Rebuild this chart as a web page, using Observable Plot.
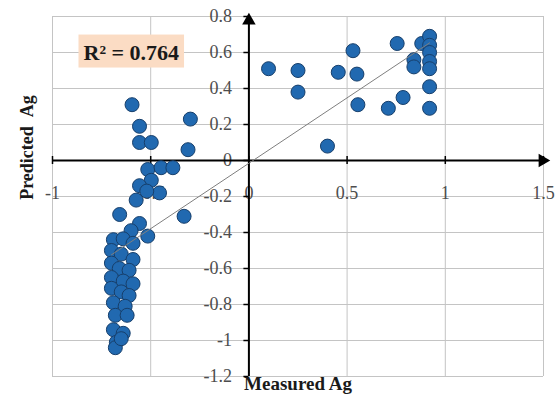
<!DOCTYPE html>
<html>
<head>
<meta charset="utf-8">
<script src="https://cdn.jsdelivr.net/npm/d3@7"></script>
<script src="https://cdn.jsdelivr.net/npm/@observablehq/plot@0.6"></script>
<style>
  html, body { margin: 0; padding: 0; background: #fff; }
</style>
</head>
<body>
<div id="chart"></div>
<script>
// ---- data ----
const xTicks = [-1, -0.5, 0, 0.5, 1, 1.5];
const yTicks = [-1.2, -1, -0.8, -0.6, -0.4, -0.2, 0, 0.2, 0.4, 0.6, 0.8];
const xTitle = "Measured Ag";
const yTitle = "Predicted\u00a0\u00a0Ag";
const r2Label = "R² = 0.764";

const measured = [
  0.10, 0.25, 0.25, 0.455, 0.53, 0.55, 0.555, 0.40, 0.71, 0.785, 0.755, 0.84, 0.84, 0.88,
  0.92, 0.92, 0.92, 0.92, 0.92, 0.92, 0.92,
  -0.595, -0.557, -0.557, -0.497, -0.298, -0.31, -0.515, -0.447, -0.387, -0.497, -0.557,
  -0.455, -0.574, -0.658, -0.557, -0.33, -0.515, -0.52,
  -0.60, -0.69, -0.64, -0.59, -0.70, -0.65, -0.59, -0.70, -0.66, -0.61, -0.70, -0.64, -0.59,
  -0.70, -0.65, -0.61, -0.69, -0.63, -0.68, -0.62, -0.69, -0.64, -0.675, -0.68, -0.65
];
const predicted = [
  0.51, 0.50, 0.38, 0.49, 0.61, 0.48, 0.31, 0.08, 0.29, 0.35, 0.65, 0.56, 0.52, 0.65,
  0.69, 0.64, 0.60, 0.55, 0.51, 0.41, 0.29,
  0.31, 0.19, 0.10, 0.10, 0.23, 0.06, -0.05, -0.04, -0.04, -0.11, -0.14,
  -0.18, -0.22, -0.30, -0.35, -0.31, -0.42, -0.17,
  -0.39, -0.44, -0.435, -0.46, -0.50, -0.52, -0.55, -0.57, -0.60, -0.61, -0.65, -0.67, -0.685,
  -0.71, -0.73, -0.75, -0.79, -0.81, -0.86, -0.86, -0.94, -0.96, -1.01, -1.04, -0.99
];

const points = measured.map((x, i) => ({x, y: predicted[i]}));
const xDomain = [xTicks[0], xTicks[xTicks.length - 1]];
const yDomain = [yTicks[0], yTicks[yTicks.length - 1]];

const gridColor = "#c4c4c4";
const labelColor = "#4d4d4d";

const chart = Plot.plot({
  width: 559,
  height: 403,
  marginLeft: 52,
  marginRight: 16,
  marginTop: 16,
  marginBottom: 27,
  x: {domain: xDomain, axis: null},
  y: {domain: yDomain, axis: null},
  style: {fontFamily: "'Liberation Serif', 'Times New Roman', serif", fontSize: "17px", background: "#fff"},
  marks: [
    Plot.gridX(xTicks, {stroke: gridColor, strokeOpacity: 1, strokeWidth: 1}),
    Plot.gridY(yTicks, {stroke: gridColor, strokeOpacity: 1, strokeWidth: 1}),
    // tick labels (Excel-style, next to the axes through the origin)
    Plot.text(yTicks, {x: 0, y: d => d, text: d => String(d), textAnchor: "end", dx: -17, fill: labelColor, fontSize: 18}),
    Plot.text(xTicks, {x: d => d, y: 0, text: d => String(d), dy: 33, fill: labelColor, fontSize: 18}),
    // axes through the origin
    Plot.ruleY([0], {x1: xDomain[0], x2: xDomain[1], stroke: "#000", strokeWidth: 2}),
    Plot.ruleX([0], {y1: yDomain[0], y2: yDomain[1], stroke: "#000", strokeWidth: 2}),
    Plot.ruleX(xTicks, {x: d => d, y1: 0, y2: 0, insetTop: -4, insetBottom: -4, stroke: "#000", strokeWidth: 1.5}),
    Plot.ruleY(yTicks, {y: d => d, x1: 0, x2: 0, insetLeft: -5, insetRight: 0, stroke: "#000", strokeWidth: 1.5}),
    Plot.dot([0], {x: 0, y: yDomain[1], symbol: "triangle", r: 5, fill: "#000", stroke: null, dy: 4}),
    Plot.dot([0], {x: xDomain[1], y: 0, symbol: "triangle", r: 5, rotate: 90, fill: "#000", stroke: null, dx: -1}),
    // data
    Plot.dot(points, {x: "x", y: "y", r: 7, fill: "#2169b0", stroke: "#173f6b", strokeWidth: 1}),
    Plot.linearRegressionY(points, {x: "x", y: "y", ci: 0, stroke: "#7f7f7f", strokeWidth: 1}),
    // titles
    Plot.text([xTitle], {frameAnchor: "bottom", dy: 13, fontWeight: "bold", fontSize: 19, fill: "#1a1a1a"}),
    Plot.text([yTitle], {frameAnchor: "left", textAnchor: "middle", rotate: -90, dx: -25, dy: -49, fontWeight: "bold", fontSize: 18, fill: "#1a1a1a"}),
    Plot.text([r2Label], {frameAnchor: "top-left", textAnchor: "start", lineAnchor: "middle", dx: 31, dy: 36, fontWeight: "bold", fontSize: 22, fill: "#1a1a1a"})
  ]
});

document.getElementById("chart").appendChild(chart);

// peach background behind the R² label
d3.select(chart).selectAll("text")
  .filter(function () { return this.textContent === r2Label; })
  .each(function () {
    const b = this.getBBox();
    const rect = document.createElementNS("http://www.w3.org/2000/svg", "rect");
    rect.setAttribute("x", b.x - 5);
    rect.setAttribute("y", b.y - 5);
    rect.setAttribute("width", b.width + 10);
    rect.setAttribute("height", b.height + 8);
    rect.setAttribute("fill", "#fbdcc4");
    rect.setAttribute("stroke", "none");
    if (this.getAttribute("transform")) rect.setAttribute("transform", this.getAttribute("transform"));
    this.parentNode.insertBefore(rect, this);
  });
</script>
</body>
</html>
